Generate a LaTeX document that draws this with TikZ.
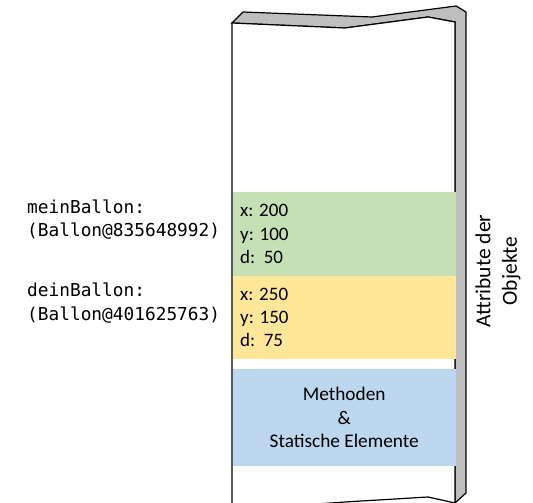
\documentclass[tikz,border=0pt]{standalone}
\usepackage{fontspec}
\setmainfont{Carlito}
\setmonofont{DejaVu Sans Mono}
\usetikzlibrary{positioning}

\definecolor{slotgreen}{HTML}{C5E0B4}
\definecolor{slotyellow}{HTML}{FFE699}
\definecolor{slotblue}{HTML}{BDD7EE}
\definecolor{sidegray}{HTML}{BFBFBF}

\begin{document}
\begin{tikzpicture}[
  x=1pt, y=-1pt,
  face/.style={draw, line width=1.2pt, line join=miter},
  slot/.style={rectangle, minimum width=222.8pt, inner sep=0pt, anchor=north west},
  vals/.style={align=left, anchor=base west, inner sep=0pt, font=\fontsize{19}{23.3}\selectfont},
  ref/.style={align=left, anchor=base west, inner sep=0pt, font=\ttfamily\fontsize{17.8}{23.3}\selectfont}
]
\useasboundingbox (0,0) rectangle (533,503);

\begin{scope}
\clip (0,0) rectangle (533,503);
% Column: top and side faces
\draw[face, fill=sidegray] (232,23) -- (243,12) -- (372,17) -- (456,6) -- (466,12)
  -- (466,493) -- (455,503) -- (455,22) -- (428,17) -- (345,28) -- cycle;
% Column: front face
\draw[face, fill=white] (232,23) -- (345,28) -- (428,17) -- (455,22)
  -- (455,503) -- (428,497) -- (345,502) -- (232,510) -- cycle;
\end{scope}

% Objects on the column
\node[slot, fill=slotgreen, minimum height=84pt] (mein) at (232.6,191.7) {};
\node[slot, fill=slotyellow, minimum height=83.3pt] (dein) at (232.6,275.7) {};
\node[slot, fill=slotblue, minimum height=97pt, align=center,
  font=\fontsize{19.3}{23.5}\selectfont] (methoden) at (232.6,369)
  {Methoden\\\&\\Statische Elemente};

% Attribute values (base = last line)
\node[vals] (meinvals) at (240,263.3) {x: 200\\y: 100\\d:\ \ 50};
\node[vals] (deinvals) at (240,346.6) {x: 250\\y: 150\\d:\ \ 75};

% References
\node[ref] (meinref) at (27,236.7) {meinBallon:\\(Ballon@835648992)};
\node[ref] (deinref) at (27,320) {deinBallon:\\(Ballon@401625763)};

% Side label
\node[rotate=90, align=center, font=\fontsize{21.5}{26.7}\selectfont] (attr) at (498,271)
  {Attribute der\\Objekte};
\end{tikzpicture}
\end{document}
